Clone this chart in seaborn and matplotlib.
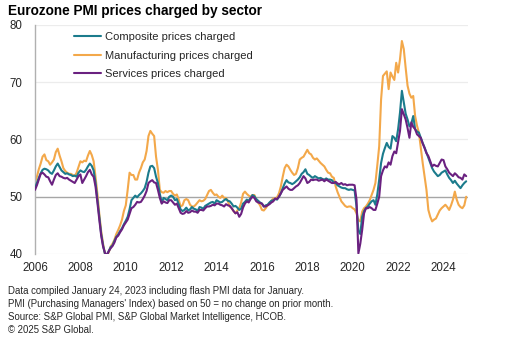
import matplotlib
matplotlib.use('Agg')
import matplotlib.pyplot as plt
import numpy as np
import pandas as pd
import seaborn as sns

# Monthly index values, Jan 2006 - Jan 2025
composite = [
    51.5, 52.4, 53.3, 54.1, 54.7, 54.9, 54.8, 54.6, 54.2, 54.0, 54.6, 55.3,  # 2006
    55.8, 55.2, 54.6, 54.3, 54.0, 54.1, 53.9, 53.8, 53.6, 53.7, 53.5, 54.2,  # 2007
    54.6, 54.4, 54.3, 54.7, 55.3, 55.8, 55.4, 54.6, 52.5, 49.5, 46.5, 43.5,  # 2008
    41.5, 40.0, 39.8, 40.5, 41.2, 41.5, 42.3, 43.0, 43.4, 44.0, 44.5, 45.2,  # 2009
    45.8, 46.5, 47.8, 49.4, 49.8, 50.2, 49.9, 50.3, 50.6, 51.0, 51.5, 52.6,  # 2010
    54.2, 55.3, 55.4, 55.0, 53.5, 52.4, 50.5, 49.0, 49.8, 49.6, 49.4, 50.0,  # 2011
    50.2, 50.0, 49.4, 49.6, 48.7, 47.8, 47.5, 47.7, 48.1, 47.6, 47.8, 48.2,  # 2012
    47.9, 47.8, 47.5, 48.2, 48.1, 47.9, 48.4, 48.6, 48.8, 49.0, 49.1, 48.8,  # 2013
    49.4, 49.2, 49.0, 49.1, 49.4, 49.6, 49.3, 49.2, 48.8, 48.3, 48.4, 48.1,  # 2014
    47.7, 47.9, 48.8, 49.1, 49.5, 49.3, 49.8, 50.3, 50.1, 49.6, 49.3, 49.0,  # 2015
    48.8, 48.3, 48.5, 48.6, 49.0, 49.3, 49.4, 49.6, 49.5, 50.0, 50.6, 51.5,  # 2016
    52.3, 52.9, 52.5, 52.4, 52.2, 52.4, 52.7, 53.0, 53.4, 54.0, 54.3, 54.8,  # 2017
    54.0, 53.8, 53.5, 53.3, 53.6, 53.4, 53.2, 53.3, 53.1, 53.0, 53.2, 53.0,  # 2018
    53.0, 52.9, 52.5, 52.4, 52.0, 51.8, 51.6, 51.5, 51.5, 51.3, 51.2, 51.3,  # 2019
    51.2, 51.1, 48.3, 44.1, 43.5, 46.5, 47.5, 48.0, 48.3, 48.8, 49.2, 49.4,  # 2020
    48.6, 50.4, 53.0, 55.9, 57.5, 58.5, 59.4, 58.7, 58.4, 60.6, 60.3, 59.7,  # 2021
    61.8, 64.7, 68.5, 66.5, 64.5, 63.5, 62.3, 62.8, 64.1, 61.8, 61.4, 61.2,  # 2022
    60.3, 59.4, 58.6, 57.7, 56.8, 55.9, 55.0, 54.4, 54.0, 53.6, 53.8, 54.2,  # 2023
    54.4, 54.6, 53.9, 53.3, 52.9, 52.4, 52.8, 52.3, 51.9, 51.5, 52.0, 52.4,  # 2024
    52.7,                                                                    # 2025
]
manufacturing = [
    52.5, 53.5, 54.8, 55.8, 57.0, 57.4, 56.4, 56.2, 55.6, 56.0, 56.5, 57.8,
    58.4, 57.2, 56.2, 55.0, 54.5, 54.2, 54.0, 54.0, 53.8, 53.6, 54.2, 55.2,
    56.2, 56.0, 56.3, 56.2, 57.2, 58.0, 57.3, 56.2, 53.5, 50.5, 47.0, 44.0,
    41.8, 40.0, 39.6, 40.3, 41.3, 41.8, 42.5, 43.5, 44.2, 45.0, 46.0, 47.5,
    48.5, 51.2, 54.2, 53.8, 53.8, 53.0, 53.0, 54.2, 55.0, 56.0, 56.5, 58.0,
    60.6, 61.5, 61.0, 60.6, 57.0, 54.7, 51.2, 50.8, 50.7, 51.0, 50.8, 51.0,
    51.0, 50.5, 50.2, 50.4, 49.5, 48.3, 48.5, 49.4, 49.6, 49.4, 48.6, 48.3,
    48.3, 48.6, 49.0, 49.4, 49.2, 49.3, 49.6, 50.3, 51.0, 51.2, 50.7, 50.3,
    50.4, 50.0, 49.8, 50.2, 49.8, 49.8, 49.2, 48.3, 48.0, 47.5, 47.1, 47.6,
    48.0, 49.0, 50.5, 50.9, 50.5, 50.2, 50.0, 50.3, 50.3, 49.5, 49.0, 48.5,
    47.7, 47.6, 48.0, 48.5, 48.9, 49.3, 49.7, 49.7, 49.9, 50.6, 51.8, 53.5,
    55.0, 55.6, 55.3, 54.7, 54.2, 53.8, 54.0, 55.0, 56.5, 56.8, 57.0, 57.6,
    58.2, 57.6, 57.4, 56.8, 56.5, 56.7, 56.3, 55.9, 55.6, 55.3, 54.7, 54.2,
    54.1, 53.5, 53.3, 51.8, 50.8, 50.0, 49.2, 48.8, 48.4, 48.2, 48.3, 48.3,
    48.0, 47.8, 47.1, 45.9, 45.7, 47.4, 48.0, 48.3, 48.8, 49.4, 50.3, 51.2,
    52.4, 55.5, 58.8, 67.0, 71.1, 71.5, 71.9, 68.8, 71.7, 71.0, 70.4, 73.4,
    71.7, 74.0, 77.2, 75.8, 72.5, 69.4, 68.0, 67.3, 67.6, 64.1, 62.4, 61.2,
    58.5, 55.9, 53.5, 51.2, 47.7, 46.5, 45.7, 46.0, 46.2, 46.9, 47.6, 48.0,
    48.3, 48.6, 48.2, 47.7, 48.5, 49.5, 50.9, 49.5, 48.6, 48.2, 48.0, 48.5,
    50.0,
]
services = [
    51.2, 52.0, 53.0, 54.0, 54.2, 53.9, 53.5, 53.4, 52.7, 52.1, 53.0, 53.8,
    54.1, 53.6, 53.5, 53.3, 53.2, 53.3, 53.0, 52.8, 52.6, 52.4, 53.0, 53.6,
    53.9, 52.4, 53.0, 53.6, 54.3, 54.7, 53.9, 53.5, 51.8, 49.0, 46.0, 43.2,
    41.3, 40.2, 39.8, 40.5, 41.0, 41.4, 42.0, 42.9, 43.2, 43.8, 44.3, 45.0,
    45.5, 46.0, 47.0, 48.0, 48.2, 48.6, 49.1, 49.0, 49.1, 49.6, 50.2, 51.0,
    52.4, 52.7, 52.9, 52.5, 52.4, 51.2, 49.8, 48.8, 49.2, 49.0, 48.9, 49.4,
    49.4, 49.0, 48.6, 48.8, 48.0, 47.2, 47.0, 47.1, 47.5, 47.2, 47.3, 47.6,
    47.4, 47.4, 47.2, 47.7, 47.7, 47.6, 48.0, 48.3, 48.3, 48.4, 48.6, 48.5,
    48.8, 48.8, 48.6, 48.5, 48.3, 48.7, 48.5, 48.4, 48.0, 47.5, 47.1, 47.3,
    46.5, 47.0, 48.1, 48.8, 49.2, 49.0, 49.6, 50.0, 49.8, 49.2, 49.0, 48.9,
    48.8, 48.3, 48.3, 48.5, 48.7, 49.0, 49.2, 49.7, 49.6, 50.0, 50.6, 51.2,
    51.5, 51.8, 51.4, 51.2, 51.2, 51.5, 51.8, 52.0, 52.4, 53.0, 53.6, 53.2,
    52.4, 52.6, 53.0, 52.9, 53.0, 53.0, 52.8, 52.9, 53.0, 52.7, 53.0, 52.8,
    52.6, 52.4, 52.4, 52.6, 52.3, 52.2, 52.4, 52.1, 52.2, 52.0, 52.1, 52.1,
    52.1, 52.0, 49.5, 40.1, 41.8, 44.2, 47.1, 48.0, 48.0, 48.2, 48.0, 47.7,
    47.7, 48.8, 50.0, 53.6, 54.6, 55.3, 55.1, 56.0, 55.6, 57.1, 57.9, 57.6,
    59.5, 61.5, 65.3, 64.4, 63.5, 62.0, 60.3, 63.0, 62.2, 61.8, 60.9, 60.6,
    60.3, 59.3, 58.5, 57.6, 57.1, 56.2, 55.3, 55.6, 55.4, 55.3, 55.9, 56.5,
    56.4, 55.3, 54.8, 54.2, 53.9, 53.6, 54.1, 53.8, 53.4, 53.3, 53.0, 53.9,
    53.6,
]
series_names = ['Composite prices charged', 'Manufacturing prices charged', 'Services prices charged']
series_colors = ['#1b7b8c', '#f3a84a', '#6a2180']
year_ticks = list(range(2006, 2025, 2))
notes = [
    'Data compiled January 24, 2023 including flash PMI data for January.',
    "PMI (Purchasing Managers' Index) based on 50 = no change on prior month.",
    'Source: S&P Global PMI, S&P Global Market Intelligence, HCOB.',
    '\u00a9 2025 S&P Global.',
]

dates = pd.date_range('2006-01-01', periods=len(composite), freq='MS')
t = dates.year + (dates.month - 1) / 12

sns.set_style('white')
plt.rcParams['font.family'] = ['Liberation Sans', 'DejaVu Sans']

fig = plt.figure(figsize=(5.06, 3.53), dpi=100)
ax = fig.add_axes([35 / 506, 1 - 254 / 353, (468 - 35) / 506, (254 - 25) / 353])

for yv in [40, 60, 70, 80]:
    ax.axhline(yv, color='#ececec', lw=0.9, zorder=0)
ax.axhline(50, color='#a6a6a6', lw=1.0, zorder=1)

handles = {}
for name, vals, col, z in [(series_names[1], manufacturing, series_colors[1], 2),
                           (series_names[0], composite, series_colors[0], 3),
                           (series_names[2], services, series_colors[2], 4)]:
    sns.lineplot(x=t, y=vals, ax=ax, color=col, lw=1.5, zorder=z)
    handles[name] = ax.lines[-1]

leg = ax.legend([handles[n] for n in series_names], series_names, loc='upper left',
                bbox_to_anchor=(0.067, 1.012), frameon=False, fontsize=8.0,
                handlelength=2.4, handletextpad=0.4, labelspacing=0.75)
for txt in leg.get_texts():
    txt.set_color('#262626')

ax.set_xlim(2006, 2025.08)
ax.set_ylim(40, 80)
ax.set_xticks(year_ticks)
ax.set_yticks([40, 50, 60, 70, 80])
ax.tick_params(axis='both', length=0, labelsize=8.3, colors='#262626')
ax.tick_params(axis='x', pad=6)
ax.tick_params(axis='y', pad=9)
for s in ['top', 'right', 'bottom']:
    ax.spines[s].set_visible(False)
ax.spines['left'].set_color('#b0b0b0')
ax.spines['left'].set_linewidth(1.0)
ax.set_xlabel('')
ax.set_ylabel('')

fig.text(8 / 506, 1 - 11 / 353, 'Eurozone PMI prices charged by sector', fontsize=9.8,
         fontweight='bold', va='center', ha='left', color='black')
for i, note in enumerate(notes):
    fig.text(8 / 506, 1 - (291 + 13 * i) / 353, note, fontsize=6.9, va='center',
             ha='left', color='#262626')

fig.savefig('out.png', dpi=100)
